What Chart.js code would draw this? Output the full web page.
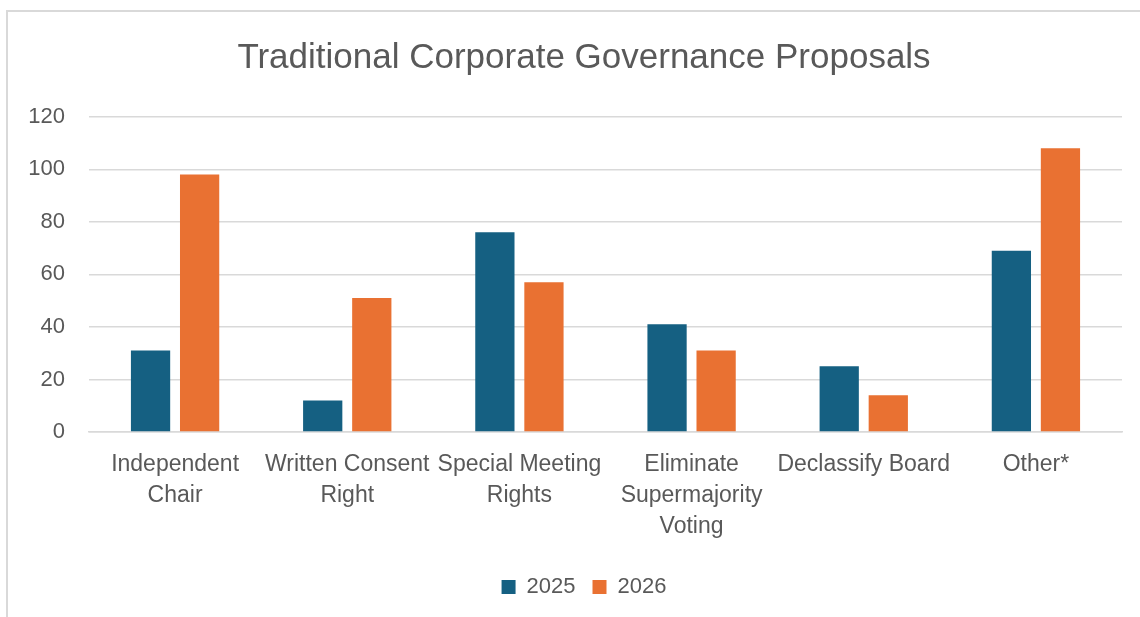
<!DOCTYPE html>
<html>
<head>
<meta charset="utf-8">
<script src="https://cdn.jsdelivr.net/npm/chart.js@4"></script>
<style>
  html, body { margin: 0; padding: 0; background: #ffffff; }
  #wrap { position: relative; width: 1140px; height: 617px; }
  canvas { display: block; }
</style>
</head>
<body>
<div id="wrap"><canvas id="chart" width="1140" height="617"></canvas></div>
<script>
// Proposal categories (multi-line labels) and counts per season
const categories = [
  ["Independent", "Chair"],
  ["Written Consent", "Right"],
  ["Special Meeting", "Rights"],
  ["Eliminate", "Supermajority", "Voting"],
  ["Declassify Board"],
  ["Other*"]
];
const values2025 = [31, 12, 76, 41, 25, 69];
const values2026 = [98, 51, 57, 31, 14, 108];
const seriesNames = ["2025", "2026"];
const yTicks = [0, 20, 40, 60, 80, 100, 120];

const TEXT = '#595959';
const GRID = '#d9d9d9';
const FONT = "'Liberation Sans', Arial, sans-serif";

// Light frame along the top and left edges of the chart
const framePlugin = {
  id: 'frame',
  beforeDraw(chart) {
    const ctx = chart.ctx;
    ctx.save();
    ctx.strokeStyle = GRID;
    ctx.lineWidth = 2;
    ctx.beginPath();
    ctx.moveTo(7, 617);
    ctx.lineTo(7, 11);
    ctx.lineTo(1140, 11);
    ctx.stroke();
    ctx.restore();
  }
};

// Centre title and legend over the framed chart box rather than the full canvas
const centerPlugin = {
  id: 'centerBlocks',
  afterLayout(chart) {
    const frameLeft = 46;
    if (chart.titleBlock) chart.titleBlock.left = frameLeft;
    if (chart.legend) chart.legend.left = frameLeft;
  }
};

new Chart(document.getElementById('chart'), {
  type: 'bar',
  data: {
    labels: categories,
    datasets: [
      { label: seriesNames[0], data: values2025, backgroundColor: '#156082' },
      { label: seriesNames[1], data: values2026, backgroundColor: '#E97132' }
    ]
  },
  options: {
    responsive: false,
    animation: false,
    events: [],
    layout: { padding: { left: 0, right: 18, top: 0, bottom: 9 } },
    datasets: {
      bar: { categoryPercentage: 0.57, barPercentage: 0.8 }
    },
    plugins: {
      title: {
        display: true,
        text: 'Traditional Corporate Governance Proposals',
        color: TEXT,
        font: { family: FONT, size: 35, weight: 'normal', lineHeight: 1.2 },
        padding: { top: 37, bottom: 37.7 }
      },
      legend: {
        position: 'bottom',
        labels: {
          color: TEXT,
          font: { family: FONT, size: 22 },
          boxWidth: 14,
          boxHeight: 14,
          padding: 17
        }
      },
      tooltip: { enabled: false }
    },
    scales: {
      x: {
        grid: { display: false, drawTicks: false },
        border: { display: true, color: GRID, width: 1.5 },
        ticks: {
          color: TEXT,
          font: { family: FONT, size: 23, lineHeight: 31 / 23 },
          padding: 17,
          maxRotation: 0,
          autoSkip: false
        },
        afterFit(scale) { scale.height = 127; }
      },
      y: {
        min: 0,
        max: yTicks[yTicks.length - 1],
        afterBuildTicks(scale) { scale.ticks = yTicks.map(v => ({ value: v })); },
        grid: { color: GRID, lineWidth: 1.5, drawTicks: false },
        border: { display: false },
        ticks: {
          color: TEXT,
          font: { family: FONT, size: 22 },
          padding: 24
        },
        afterFit(scale) { scale.width = 89; }
      }
    }
  },
  plugins: [framePlugin, centerPlugin]
});
</script>
</body>
</html>
